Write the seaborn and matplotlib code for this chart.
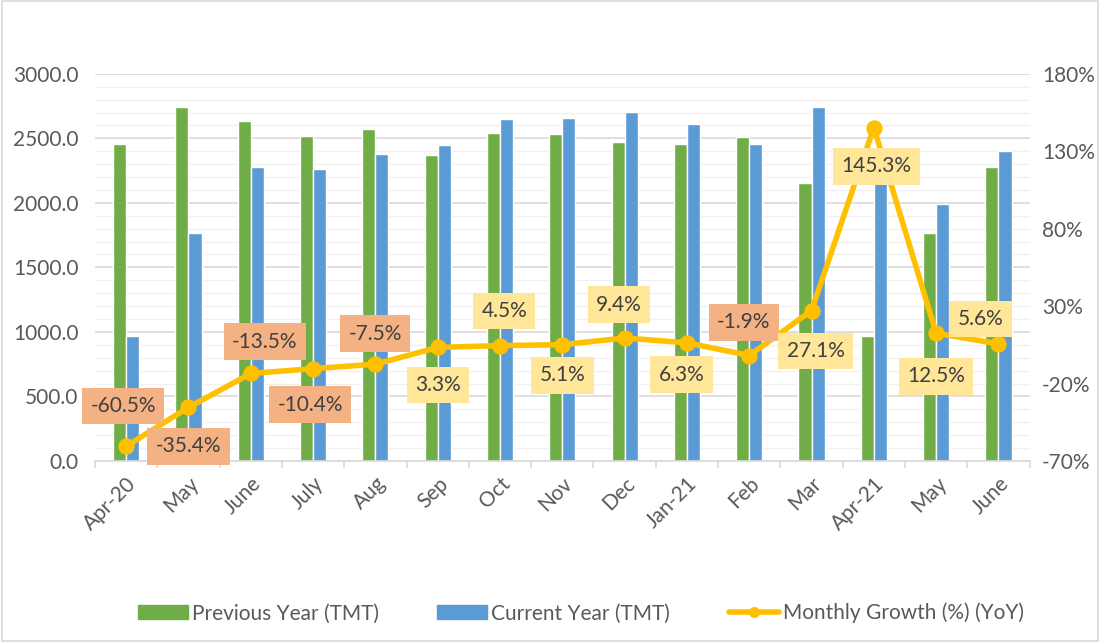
import numpy as np
import pandas as pd
import matplotlib
matplotlib.use("Agg")
import matplotlib.pyplot as plt
import matplotlib.ticker as ticker
from matplotlib.lines import Line2D
from matplotlib.patches import Patch, Rectangle
import seaborn as sns

months = ["Apr-20", "May", "June", "July", "Aug", "Sep", "Oct", "Nov", "Dec",
          "Jan-21", "Feb", "Mar", "Apr-21", "May", "June"]
previous_year = [2460, 2740, 2635, 2520, 2575, 2370, 2540, 2535, 2475,
                 2455, 2510, 2155, 970, 1770, 2280]
current_year = [970, 1770, 2280, 2260, 2380, 2450, 2650, 2660, 2705,
                2610, 2460, 2740, 2380, 1990, 2405]
growth = [-60.5, -35.4, -13.5, -10.4, -7.5, 3.3, 4.5, 5.1, 9.4,
          6.3, -1.9, 27.1, 145.3, 12.5, 5.6]
growth_ticks = [-70, -20, 30, 80, 130, 180]

# label offsets in points (dx, dy) relative to each line point
label_offsets = [(-2, 29), (0, -28), (10, 23), (-2, -26), (0, 22), (0, -27),
                 (3, 25), (0, -22), (-4, 24), (-4, -23), (-4, 24), (3, -29),
                 (2, -28), (0, -31), (-13, 18)]

GREEN = "#70AD47"
BLUE = "#5B9BD5"
GOLD = "#FFC000"
TXT = "#595959"
FS = 15

df = pd.DataFrame({
    "month": list(range(len(months))) * 2,
    "value": previous_year + current_year,
    "series": ["Previous Year (TMT)"] * len(months) + ["Current Year (TMT)"] * len(months),
})

sns.set_theme(style="white")
plt.rcParams["font.family"] = ["Lato", "DejaVu Sans"]

fig = plt.figure(figsize=(11, 6.42), dpi=100)
ax = fig.add_axes([0.0864, 0.282, 0.8496, 0.603])

sns.barplot(data=df, x="month", y="value", hue="series",
            palette=[GREEN, BLUE], width=0.42, saturation=1,
            ax=ax, legend=False, zorder=2)

ax.set_ylim(0, 3000)
ax.set_xlim(-0.5, len(months) - 0.5)
ax.yaxis.set_major_locator(ticker.MultipleLocator(500))
ax.yaxis.set_minor_locator(ticker.MultipleLocator(100))
ax.yaxis.set_major_formatter(ticker.FormatStrFormatter("%.1f"))
ax.grid(axis="y", which="major", color="#D9D9D9", lw=1.2, zorder=0)
ax.grid(axis="y", which="minor", color="#F0F0F0", lw=1.0, zorder=0)
ax.set_axisbelow(True)
ax.set_xlabel("")
ax.set_ylabel("")
for s in ["top", "right", "left"]:
    ax.spines[s].set_visible(False)
ax.spines["bottom"].set_color("#D9D9D9")
ax.spines["bottom"].set_linewidth(1.2)

ax.set_xticks(range(len(months)))
ax.set_xticklabels(months, rotation=45, ha="right", rotation_mode="anchor",
                   fontsize=FS, color=TXT)
ax.xaxis.set_minor_locator(ticker.FixedLocator(np.arange(-0.5, len(months), 1.0)))
ax.tick_params(axis="x", which="major", length=0, pad=9)
ax.tick_params(axis="x", which="minor", length=5, color="#D9D9D9", width=1.2, bottom=True)
ax.tick_params(axis="y", which="both", length=0, labelsize=FS, labelcolor=TXT, pad=12)

ax2 = ax.twinx()
sns.lineplot(x=np.arange(len(months)), y=growth, ax=ax2, color=GOLD, lw=4,
             marker="o", markersize=11, markeredgecolor=GOLD, zorder=5)
ax2.set_ylim(-70, 180)
ax2.yaxis.set_major_locator(ticker.FixedLocator(growth_ticks))
ax2.yaxis.set_major_formatter(ticker.FuncFormatter(lambda v, p: f"{v:.0f}%"))
ax2.tick_params(axis="y", length=0, labelsize=FS, labelcolor=TXT, pad=9)
for s in ax2.spines.values():
    s.set_visible(False)
ax2.grid(False)

for i, (g, off) in enumerate(zip(growth, label_offsets)):
    fc = "#F4B183" if g < 0 else "#FFE699"
    ax2.annotate(f"{g:.1f}%", (i, g), xytext=off, textcoords="offset points",
                 ha="center", va="center", fontsize=FS, color="#404040",
                 bbox=dict(boxstyle="square,pad=0.4", fc=fc, ec="none"),
                 zorder=6)

handles = [Patch(color=GREEN, label="Previous Year (TMT)"),
           Patch(color=BLUE, label="Current Year (TMT)"),
           Line2D([0], [0], color=GOLD, lw=4, marker="o", markersize=7,
                  label="Monthly Growth (%) (YoY)")]
fig.legend(handles=handles, loc="center", bbox_to_anchor=(0.528, 0.045), ncol=3,
           frameon=False, fontsize=FS, handlelength=2.4, handleheight=0.7,
           columnspacing=2.8, handletextpad=0.2, labelcolor=TXT)

fig.patches.append(Rectangle((0.002, 0.002), 0.996, 0.996, transform=fig.transFigure,
                             fill=False, ec="#D9D9D9", lw=1.2))

fig.savefig("out.png", dpi=100)
